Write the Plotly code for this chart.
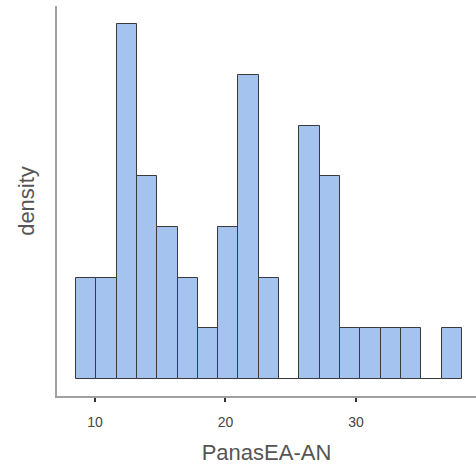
import plotly.graph_objects as go

bin_start = 8.55
bin_width = 1.556
counts = [2, 2, 7, 4, 3, 2, 1, 3, 6, 2, 0, 5, 4, 1, 1, 1, 1, 0, 1]
tick_vals = [10, 20, 30]
tick_text = ["10", "20", "30"]

centers = [bin_start + bin_width * (i + 0.5) for i in range(len(counts))]

fig = go.Figure(go.Bar(
    x=centers, y=counts, width=[bin_width] * len(counts),
    marker=dict(color="#A4C3EF", line=dict(color="#3a3a3a", width=1)),
    hoverinfo="skip",
))

fig.update_layout(
    width=476, height=465,
    margin=dict(l=57, r=0, t=6, b=69),
    plot_bgcolor="white", paper_bgcolor="white",
    font=dict(family="Liberation Sans, Arial, sans-serif", color="#333"),
    showlegend=False,
    bargap=0,
)
fig.update_xaxes(
    range=[7.09, 39.2], showgrid=False, zeroline=False,
    showline=True, linecolor="#a0a0a0", linewidth=2,
    ticks="outside", ticklen=4, tickcolor="#333", tickwidth=1.5,
    tickvals=tick_vals, ticktext=tick_text,
    tickfont=dict(size=14, color="#444"),
    ticklabelstandoff=8,
    title=dict(text="PanasEA-AN", font=dict(size=22, color="#555"), standoff=16),
)
fig.update_yaxes(
    range=[-0.335, 7.36], showgrid=False, zeroline=False,
    showline=True, linecolor="#a0a0a0", linewidth=2,
    showticklabels=False, ticks="",
    title=dict(text="density", font=dict(size=22, color="#555"), standoff=14),
)

fig.write_html("out.html")
